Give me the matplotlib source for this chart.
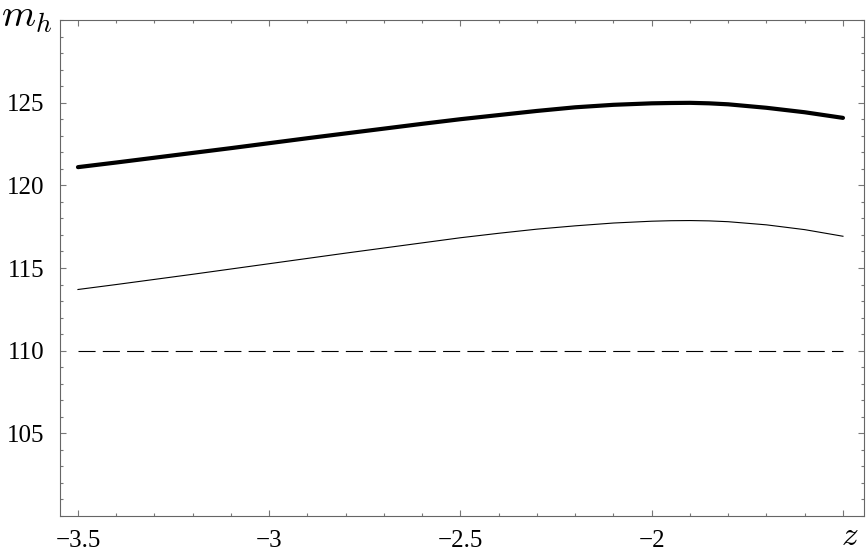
import matplotlib
matplotlib.use("Agg")
import matplotlib.pyplot as plt
from matplotlib.ticker import MultipleLocator

# values
z = [-3.5, -3.4, -3.3, -3.2, -3.1, -3.0, -2.9, -2.8, -2.7, -2.6, -2.5,
     -2.4, -2.3, -2.2, -2.1, -2.0, -1.95, -1.9, -1.85, -1.8, -1.7, -1.6, -1.5]
mh_thick = [121.10, 121.38, 121.67, 121.96, 122.25, 122.55, 122.85, 123.14,
            123.43, 123.72, 124.00, 124.25, 124.50, 124.72, 124.87, 124.96,
            124.98, 124.99, 124.96, 124.90, 124.69, 124.42, 124.08]
mh_thin = [113.70, 114.00, 114.31, 114.62, 114.94, 115.26, 115.58, 115.90,
           116.21, 116.52, 116.83, 117.10, 117.35, 117.55, 117.72, 117.83,
           117.86, 117.87, 117.85, 117.80, 117.61, 117.32, 116.92]
mh_bound = 110.0

x_ticks = [-3.5, -3.0, -2.5, -2.0, -1.5]
x_labels = ["\u22123.5", "\u22123", "\u22122.5", "\u22122", ""]
y_ticks = [105, 110, 115, 120, 125]

plt.rcParams["font.family"] = ["Liberation Serif", "DejaVu Serif"]
plt.rcParams["mathtext.fontset"] = "cm"
plt.rcParams["lines.scale_dashes"] = False

fig = plt.figure(figsize=(8.66, 5.53), dpi=100)
ax = fig.add_axes([60 / 866, 1 - 516 / 553, 804 / 866, 496 / 553])

ax.plot(z, mh_thick, color="black", lw=3.0, solid_capstyle="round",
        solid_joinstyle="round")
ax.plot(z, mh_thin, color="black", lw=0.8, solid_joinstyle="round")
ax.plot([z[0], z[-1]], [mh_bound, mh_bound], color="black", lw=0.8,
        dashes=(12.3, 5.2))

ax.set_xlim(-3.547, -1.445)
ax.set_ylim(100, 130)

ax.set_xticks(x_ticks)
ax.set_xticklabels(x_labels)
ax.set_yticks(y_ticks)
ax.set_yticklabels([str(v) for v in y_ticks])
ax.xaxis.set_minor_locator(MultipleLocator(0.1))
ax.yaxis.set_minor_locator(MultipleLocator(1))

ax.tick_params(which="both", direction="in", top=True, right=True,
               color="#777777", labelsize=18, width=0.8)
ax.tick_params(which="major", length=4.0, pad=10)
ax.tick_params(axis="y", which="major", pad=11)
ax.tick_params(which="minor", length=2.3)
for sp in ax.spines.values():
    sp.set_color("#666666")
    sp.set_linewidth(0.8)

# axis labels sit at the ends of the frame, Mathematica style
ax.text(-1.482, -0.041, "$z$", transform=ax.get_xaxis_transform(),
        fontsize=24, ha="center", va="center", clip_on=False)
fig.text(1 / 866, 1 - 17 / 553, "$m_h$", fontsize=28, va="center", ha="left")

fig.savefig("out.png", dpi=100)
